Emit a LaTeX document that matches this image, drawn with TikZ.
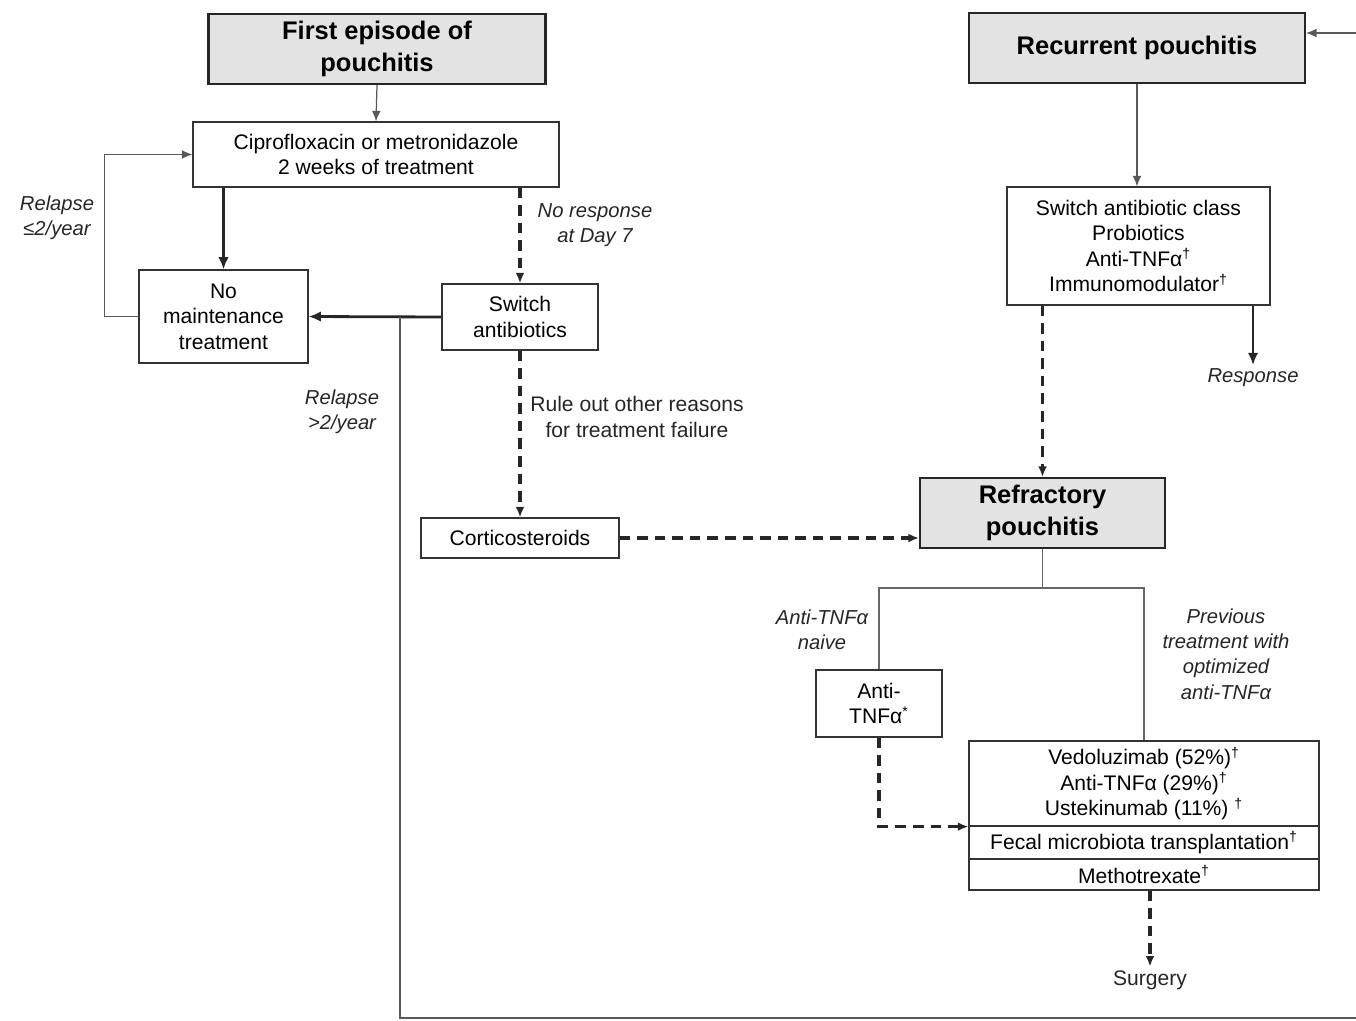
\documentclass[tikz,border=0pt]{standalone}
\usepackage{fontspec}
\setmainfont{Liberation Sans}
\usetikzlibrary{calc,arrows.meta}

\begin{document}
\begin{tikzpicture}[x=0.02cm, y=-0.02cm,
		box/.style={draw=black!80, line width=0.7pt, fill=white, align=center, inner sep=0pt, font=\fontsize{12}{14.5}\selectfont},
		headbox/.style={draw=black!85, line width=1.2pt, fill=black!11, align=center, inner sep=0pt, font=\fontsize{14.5}{18}\selectfont\bfseries},
		note/.style={align=center, inner sep=2pt, text=black!85, font=\fontsize{11.5}{14.5}\selectfont\itshape},
		plain/.style={align=center, inner sep=2pt, text=black!85, font=\fontsize{12}{14.5}\selectfont},
		solidarrow/.style={line width=1.6pt, draw=black!85, -{Latex[length=7pt,width=6pt]}},
		thinarrow/.style={line width=0.7pt, draw=black!65, -{Latex[length=6pt,width=5pt]}},
		dasharrow/.style={line width=1.8pt, draw=black!85, dash pattern=on 6pt off 4pt, -{Latex[length=6pt,width=5pt]}},
		branch/.style={line width=0.7pt, draw=black!60}]
		%%%%% START %%%%%
		
		\useasboundingbox (0, 0) rectangle (1356, 1021);
		
		% left column
		\node[headbox, minimum width=6.74cm, minimum height=1.4cm] (first) at (377, 49) {First episode of\\pouchitis};
		\node[box, minimum width=7.32cm, minimum height=1.3cm] (cipro) at (376, 154.5) {Ciprofloxacin or metronidazole\\2 weeks of treatment};
		\node[box, minimum width=3.38cm, minimum height=1.86cm] (nomaint) at (223.5, 316.5) {No\\maintenance\\treatment};
		\node[box, minimum width=3.12cm, minimum height=1.32cm] (switch) at (520, 317) {Switch\\antibiotics};
		\node[box, minimum width=3.96cm, minimum height=0.8cm] (cortico) at (520, 538) {Corticosteroids};
		
		\node[note] (lowrelapse) at (57, 218) {Relapse\\≤2/year};
		\node[note] (noresp) at (595, 225) {No response\\at Day 7};
		\node[note] (highrelapse) at (342, 412) {Relapse\\>2/year};
		\node[plain] (ruleout) at (637, 417) {Rule out other reasons\\for treatment failure};
		
		% right column
		\node[headbox, minimum width=6.72cm, minimum height=1.4cm] (recurrent) at (1137, 48) {Recurrent pouchitis};
		\node[box, minimum width=5.26cm, minimum height=2.36cm] (switchclass) at (1138.5, 246) {Switch antibiotic class\\Probiotics\\Anti-TNFα\textsuperscript{†}\\Immunomodulator\textsuperscript{†}};
		\node[note] (response) at (1253, 378) {Response};
		\node[headbox, minimum width=4.9cm, minimum height=1.4cm] (refractory) at (1042.5, 513) {Refractory\\pouchitis};
		
		\node[note] (naive) at (822, 630) {Anti-TNFα\\naive};
		\node[note] (previous) at (1226, 654) {Previous\\treatment with\\optimized\\anti-TNFα};
		\node[box, minimum width=2.52cm, minimum height=1.34cm] (antitnf) at (879, 703.5) {Anti-\\TNFα\textsuperscript{*}};
		
		\node[box, minimum width=7cm, minimum height=1.7cm] (biologics) at (1144, 783.5) {Vedoluzimab (52\%)\textsuperscript{†}\\Anti-TNFα (29\%)\textsuperscript{†}\\Ustekinumab (11\%) \textsuperscript{†}};
		\node[box, minimum width=7cm, minimum height=0.66cm] (fmt) at (1144, 842.5) {Fecal microbiota transplantation\textsuperscript{†}};
		\node[box, minimum width=7cm, minimum height=0.62cm] (mtx) at (1144, 874.5) {Methotrexate\textsuperscript{†}};
		\node[plain] (surgery) at (1150, 980) {Surgery};
		
		% connectors
		\draw[thinarrow] (first.south) -- (cipro.north);
		\draw[solidarrow] (cipro.south -| nomaint) -- (nomaint.north);
		\draw[dasharrow] (cipro.south -| switch) -- (switch.north);
		\draw[solidarrow] (switch.west) -- (nomaint.east);
		\draw[thinarrow] (nomaint.west) -- ++(-34, 0) |- (cipro.west);
		\draw[dasharrow] (switch.south) -- (cortico.north);
		\draw[dasharrow] (cortico.east) -- (cortico.east -| refractory.west);
		
		\coordinate (split) at (400, 317);
		\coordinate (loopcorner) at (1372, 1018);
		\draw[thinarrow] (split) |- (loopcorner) |- ($(recurrent.east)+(0, -15)$);
		
		\draw[thinarrow] (recurrent.south) -- (recurrent.south |- switchclass.north);
		\draw[dasharrow] (switchclass.south -| refractory) -- (refractory.north);
		\draw[solidarrow] (switchclass.south -| response) -- (response.north);
		
		\coordinate (fork) at ($(refractory.south)+(0, 39)$);
		\draw[branch] (refractory.south) -- (fork);
		\draw[branch] (antitnf.north) |- (fork) -| (biologics.north);
		\draw[dasharrow] (antitnf.south) |- (biologics.south west);
		\draw[dasharrow] (mtx.south -| surgery) -- (surgery.north);
		
		%%%%% END %%%%%
	\end{tikzpicture}
\end{document}
